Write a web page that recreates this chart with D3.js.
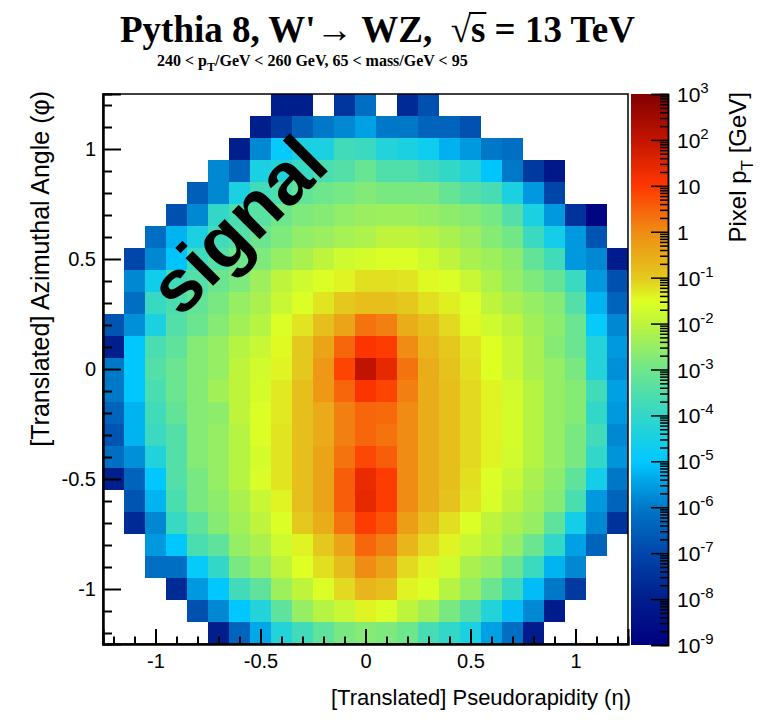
<!DOCTYPE html>
<html><head><meta charset="utf-8">
<script src="https://cdn.jsdelivr.net/npm/d3@7"></script>
<style>
body{margin:0;background:#fff;}
svg{display:block;}
text{white-space:pre;}
</style></head>
<body><svg id="c" width="760" height="720"></svg>
<script>
const N = null;
// bin centres (eta columns left->right, phi rows top->bottom)
const etaCenters = [-1.2,-1.1,-1.0,-0.9,-0.8,-0.7,-0.6,-0.5,-0.4,-0.3,-0.2,-0.1,0,0.1,0.2,0.3,0.4,0.5,0.6,0.7,0.8,0.9,1.0,1.1,1.2];
const phiCenters = [1.2,1.1,1.0,0.9,0.8,0.7,0.6,0.5,0.4,0.3,0.2,0.1,0,-0.1,-0.2,-0.3,-0.4,-0.5,-0.6,-0.7,-0.8,-0.9,-1.0,-1.1,-1.2];
// log10 of pixel pT [GeV] (null = empty bin)
const log10PixelPt = [
[N,N,N,N,N,N,N,N,-8.0,-8.0,N,-7.4,-6.2,N,-7.7,-6.8,N,N,N,N,N,N,N,N,N],
[N,N,N,N,N,N,N,-8.0,-7.3,-6.5,-6.0,-5.8,-5.5,-6.0,-6.0,-6.4,-6.4,-6.8,N,N,N,N,N,N,N],
[N,N,N,N,N,N,-8.0,-5.8,-4.9,-4.45,-4.45,-3.75,-3.85,-4.3,-4.45,-4.7,-5.3,-5.6,-6.0,-6.2,N,N,N,N,N],
[N,N,N,N,N,-5.8,-6.4,-4.45,-4.35,-3.9,-3.6,-3.45,-3.1,-3.5,-3.5,-3.75,-4.0,-4.3,-5.05,-6.0,-7.3,-8.2,N,N,N],
[N,N,N,N,-6.5,-5.8,-4.45,-3.75,-3.55,-3.2,-3.0,-2.9,-2.75,-2.85,-2.85,-2.85,-3.15,-3.45,-3.65,-4.45,-5.6,-7.0,N,N,N],
[N,N,N,-6.8,-5.8,-4.0,-3.6,-3.35,-3.0,-2.8,-2.7,-2.55,-2.45,-2.4,-2.4,-2.5,-2.6,-2.7,-2.9,-3.45,-4.45,-5.6,-7.5,-8.8,N],
[N,N,-6.2,-5.25,-4.45,-3.75,-3.45,-3.05,-2.8,-2.55,-2.45,-2.3,-2.2,-2.0,-2.0,-2.1,-2.25,-2.45,-2.7,-2.95,-3.85,-4.6,-5.6,-6.7,N],
[N,-7.0,-5.8,-5.05,-3.8,-3.45,-3.0,-2.8,-2.5,-2.25,-2.0,-1.75,-1.65,-1.55,-1.55,-1.75,-2.0,-2.25,-2.4,-2.6,-3.2,-3.75,-5.6,-5.8,-8.1],
[N,-5.8,-4.65,-3.75,-3.45,-3.05,-2.8,-2.4,-2.0,-1.75,-1.55,-1.4,-1.2,-1.2,-1.25,-1.45,-1.55,-1.85,-2.2,-2.5,-2.8,-3.15,-3.85,-5.6,-6.8],
[N,-6.2,-3.9,-3.6,-3.2,-2.85,-2.5,-2.25,-1.85,-1.55,-1.25,-1.0,-0.85,-0.85,-1.0,-1.2,-1.35,-1.55,-2.0,-2.25,-2.5,-2.7,-3.45,-5.25,-6.4],
[-6.7,-5.7,-4.45,-3.45,-3.05,-2.7,-2.35,-2.1,-1.55,-1.25,-0.85,-0.4,0.3,0.15,-0.55,-0.85,-1.15,-1.45,-1.75,-2.0,-2.35,-2.6,-3.05,-4.9,-5.8],
[-8.0,-5.0,-3.6,-3.25,-2.7,-2.5,-2.1,-1.85,-1.45,-1.0,-0.4,0.45,1.05,0.95,0.0,-0.7,-1.0,-1.25,-1.5,-1.85,-2.25,-2.7,-3.05,-4.3,-5.6],
[-6.0,-5.0,-3.45,-3.05,-2.7,-2.5,-2.0,-1.7,-1.4,-1.0,-0.2,0.85,2.05,1.4,0.3,-0.55,-0.9,-1.2,-1.5,-1.85,-2.25,-2.5,-2.85,-4.3,-5.7],
[-6.0,-5.0,-3.6,-3.05,-2.7,-2.35,-2.0,-1.65,-1.3,-0.85,-0.2,0.45,1.05,0.85,0.15,-0.55,-0.85,-1.15,-1.4,-1.7,-2.1,-2.5,-2.7,-3.75,-5.5],
[-6.4,-5.25,-3.75,-3.2,-2.7,-2.6,-2.0,-1.55,-1.3,-0.85,-0.5,0.15,0.45,0.4,0.0,-0.55,-0.85,-1.15,-1.4,-1.65,-2.1,-2.5,-2.7,-4.0,-5.6],
[-6.7,-5.25,-3.85,-3.45,-2.7,-2.5,-2.1,-1.55,-1.25,-0.85,-0.5,0.15,0.45,0.3,0.0,-0.55,-0.85,-1.15,-1.4,-1.65,-2.1,-2.5,-2.85,-3.75,-5.8],
[-6.2,-5.7,-4.35,-3.45,-2.7,-2.5,-2.1,-1.65,-1.25,-0.85,-0.4,0.3,0.8,0.55,0.0,-0.55,-0.85,-1.15,-1.4,-1.7,-2.1,-2.5,-2.85,-4.0,-5.65],
[-8.0,-6.4,-5.0,-3.45,-2.85,-2.5,-2.1,-1.6,-1.25,-0.85,-0.4,0.55,1.35,0.95,0.0,-0.55,-0.85,-1.2,-1.55,-1.85,-2.25,-2.6,-3.25,-4.6,-6.0],
[N,-6.7,-5.25,-3.6,-2.85,-2.6,-2.25,-1.85,-1.4,-0.85,-0.4,0.55,1.4,0.95,0.0,-0.55,-0.9,-1.25,-1.6,-2.0,-2.35,-2.7,-3.6,-5.6,-6.4],
[N,-7.7,-5.8,-3.9,-3.25,-2.7,-2.35,-2.0,-1.55,-1.0,-0.55,0.3,0.95,0.65,-0.3,-0.85,-1.2,-1.55,-2.0,-2.25,-2.5,-3.25,-4.6,-5.8,-7.5],
[N,N,-5.6,-5.0,-3.6,-3.25,-2.5,-2.25,-1.75,-1.4,-1.0,-0.4,0.45,0.15,-0.7,-1.15,-1.4,-1.85,-2.1,-2.5,-3.05,-4.0,-5.5,-6.4,N],
[N,N,-6.2,-6.2,-4.9,-4.0,-2.85,-2.5,-2.0,-1.5,-1.2,-0.8,0.0,-0.4,-1.15,-1.4,-1.7,-2.25,-2.5,-3.05,-3.85,-5.25,-5.8,N,N],
[N,N,N,-7.7,-5.6,-5.0,-3.75,-3.25,-2.4,-2.0,-1.55,-1.15,-0.7,-0.85,-1.4,-1.55,-2.1,-2.5,-3.05,-3.85,-5.15,-6.0,-7.3,N,N],
[N,N,N,N,-6.8,-5.8,-5.0,-4.3,-3.25,-2.5,-2.1,-1.85,-1.4,-1.55,-2.0,-2.35,-2.85,-3.45,-4.3,-5.15,-5.8,-8.1,N,N,N],
[N,N,N,N,N,-8.0,-6.4,-5.4,-4.3,-3.75,-3.25,-2.85,-2.7,-2.8,-3.0,-3.65,-4.0,-4.45,-5.5,-6.2,-8.1,N,N,N,N]
];
const binWidth = 0.1;
const axisMajorTicks = [-1,-0.5,0,0.5,1];
const colorbarExponents = [-9,-8,-7,-6,-5,-4,-3,-2,-1,0,1,2,3];
// palette stops (log10 value -> colour)
const paletteStops = [-9,-8,-7,-6,-5,-4,-3,-2,-1.5,-1,0,1,2,3];
const paletteColors = ["#000080","#001e8c","#0046aa","#0078c8","#00c8ff","#32d7c8","#6ee68c","#bef53c","#deff23","#e4c81e","#f08c14","#ff3700","#c31400","#800000"];

const svg = d3.select("#c");
const x = d3.scaleLinear().domain([-1.25,1.25]).range([103,628]);
const y = d3.scaleLinear().domain([-1.25,1.25]).range([644,94]);
const logColor = d3.scaleLinear().domain(paletteStops).range(paletteColors).interpolate(d3.interpolateRgb).clamp(true);
const zScale = d3.scaleLog().domain([1e-9,1e3]).range([645,94]);
const color = v => logColor(Math.log10(v));

// cells
const cells = [];
log10PixelPt.forEach((row,j)=>row.forEach((v,i)=>{ if(v!==null) cells.push({eta:etaCenters[i],phi:phiCenters[j],val:Math.pow(10,v)}); }));
svg.append("g").selectAll("rect").data(cells).join("rect")
  .attr("x",d=>x(d.eta-binWidth/2)).attr("y",d=>y(d.phi+binWidth/2))
  .attr("width",d=>x(d.eta+binWidth/2)-x(d.eta-binWidth/2)+0.4)
  .attr("height",d=>y(d.phi-binWidth/2)-y(d.phi+binWidth/2)+0.4)
  .attr("fill",d=>color(d.val)).attr("shape-rendering","crispEdges");

// "signal" label
svg.append("text").attr("transform","translate(256,243) rotate(-45)")
  .attr("text-anchor","middle").attr("font-family","Liberation Sans, Arial, sans-serif")
  .attr("font-weight","bold").attr("font-size",74).attr("fill","#000").text("signal");

// frame
svg.append("rect").attr("x",103).attr("y",94).attr("width",525).attr("height",550)
  .attr("fill","none").attr("stroke","#000").attr("stroke-width",1.5);

const minor = d3.range(-12,13).map(k=>k/10).filter(v=>!axisMajorTicks.some(m=>Math.abs(m-v)<1e-9));
const fmt = d=>String(d);
// x axis
const gx = svg.append("g").attr("transform","translate(0,644)");
gx.call(d3.axisBottom(x).tickValues(axisMajorTicks).tickSize(-15).tickPadding(10).tickFormat(fmt));
gx.append("g").call(d3.axisBottom(x).tickValues(minor).tickSize(-7.5).tickFormat(""));
// y axis
const gy = svg.append("g").attr("transform","translate(103,0)");
gy.call(d3.axisLeft(y).tickValues(axisMajorTicks).tickSize(-18).tickPadding(7).tickFormat(fmt));
gy.append("g").call(d3.axisLeft(y).tickValues(minor).tickSize(-9).tickFormat(""));
svg.selectAll(".domain").attr("stroke","#000").attr("stroke-width",2);
svg.selectAll(".tick line").attr("stroke","#000").attr("stroke-width",2);
svg.selectAll(".tick text").attr("font-family","Liberation Sans, Arial, sans-serif").attr("font-size",20).attr("fill","#000");

// axis titles
svg.append("text").attr("x",631).attr("y",705).attr("text-anchor","end")
  .attr("font-family","Liberation Sans, Arial, sans-serif").attr("font-size",22).text("[Translated] Pseudorapidity (η)");
svg.append("text").attr("transform","translate(49,91) rotate(-90)").attr("text-anchor","end")
  .attr("font-family","Liberation Sans, Arial, sans-serif").attr("font-size",25).text("[Translated] Azimuthal Angle (φ)");

// colour bar
const defs = svg.append("defs");
const grad = defs.append("linearGradient").attr("id","pal").attr("x1",0).attr("y1",1).attr("x2",0).attr("y2",0);
grad.selectAll("stop").data(paletteStops).join("stop")
  .attr("offset",d=>(d+9)/12).attr("stop-color",(d,i)=>paletteColors[i]);
svg.append("rect").attr("x",631).attr("y",94).attr("width",37).attr("height",551).attr("fill","url(#pal)");
const gz = svg.append("g").attr("transform","translate(668,0)");
const zMajor = colorbarExponents.map(e=>Math.pow(10,e));
const zMinor = [];
colorbarExponents.slice(0,-1).forEach(e=>{ for(let m=2;m<=9;m++) zMinor.push(m*Math.pow(10,e)); });
gz.call(d3.axisRight(zScale).tickValues(zMajor).tickSize(-17).tickFormat(""));
gz.append("g").call(d3.axisRight(zScale).tickValues(zMinor).tickSize(-8).tickFormat(""));
gz.selectAll(".domain").attr("stroke","#000").attr("stroke-width",1.5);
gz.selectAll(".tick line").attr("stroke","#000").attr("stroke-width",1.5);
const zl = svg.append("g").attr("font-family","Liberation Sans, Arial, sans-serif").attr("font-size",21);
colorbarExponents.forEach(e=>{
  const t = zl.append("text").attr("x",677).attr("y",zScale(Math.pow(10,e))+8);
  if(e===0) t.text("1");
  else if(e===1) t.text("10");
  else { t.append("tspan").text("10"); t.append("tspan").attr("dy",-9).attr("font-size",15).text(String(e)); }
});
const zt = svg.append("text").attr("transform","translate(746,92) rotate(-90)").attr("text-anchor","end")
  .attr("font-family","Liberation Sans, Arial, sans-serif").attr("font-size",24);
zt.append("tspan").text("Pixel p");
zt.append("tspan").attr("dy",7).attr("font-size",17).text("T");
zt.append("tspan").attr("dy",-7).text(" [GeV]");

// titles
const title = svg.append("text").attr("x",120).attr("y",42)
  .attr("font-family","Liberation Serif, Times New Roman, serif").attr("font-weight","bold").attr("font-size",37);
const titleStr = "Pythia 8, W'\u2192 WZ,  \u221As = 13 TeV";
title.text(titleStr);
const sIdx = titleStr.indexOf("\u221A")+1;
try {
  const rs = title.node().getExtentOfChar(sIdx);
  const rr = title.node().getExtentOfChar(sIdx-1);
  svg.append("line").attr("x1",rr.x+rr.width-2).attr("x2",rs.x+rs.width+1)
    .attr("y1",rr.y+4).attr("y2",rr.y+4).attr("stroke","#000").attr("stroke-width",2);
} catch(e) {}
const sub = svg.append("text").attr("x",157).attr("y",66)
  .attr("font-family","Liberation Serif, Times New Roman, serif").attr("font-weight","bold").attr("font-size",16);
sub.append("tspan").text("240 < p");
sub.append("tspan").attr("dy",5).attr("font-size",12).text("T");
sub.append("tspan").attr("dy",-5).text("/GeV < 260 GeV, 65 < mass/GeV < 95");
</script></body></html>
